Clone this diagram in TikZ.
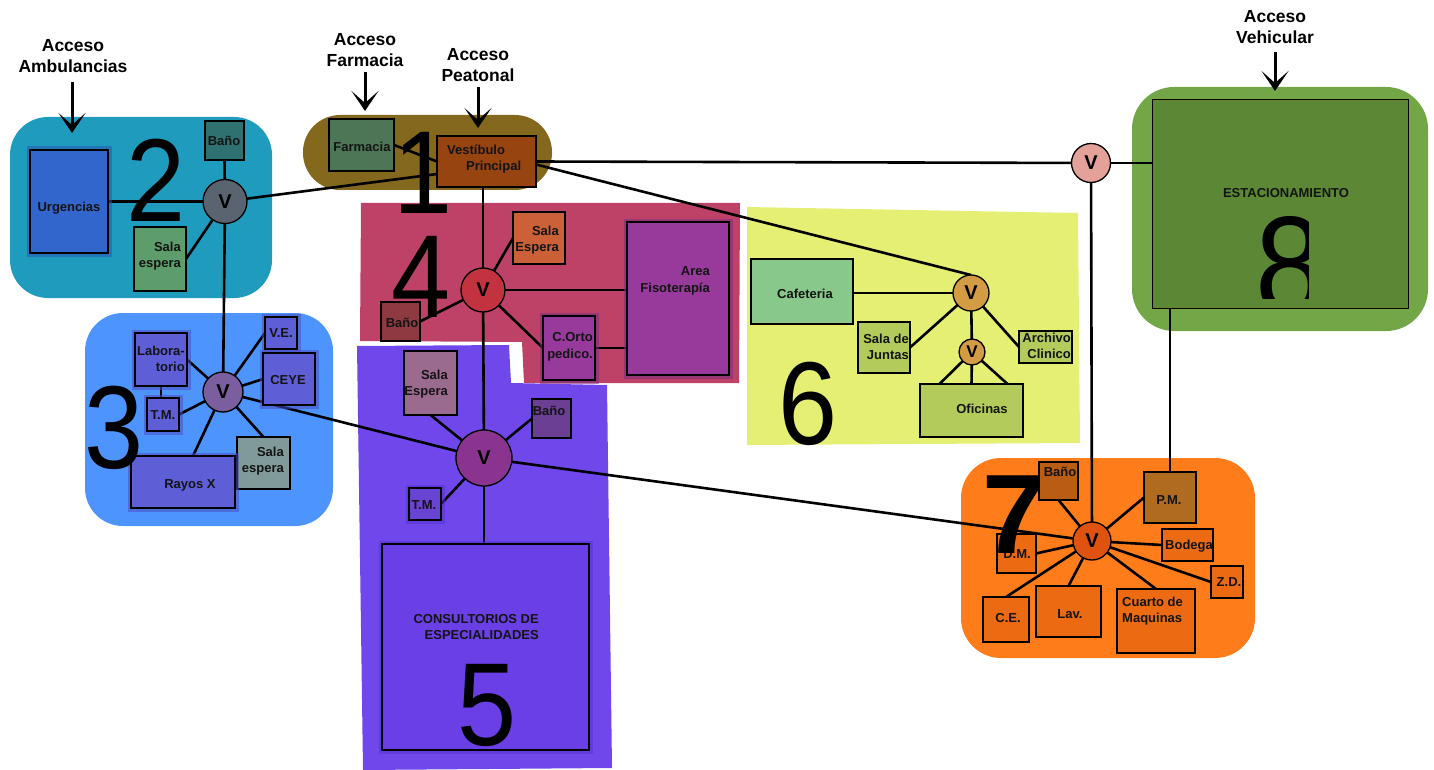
\documentclass[tikz,border=0pt]{standalone}
\usepackage{fontspec}
\usepackage{graphicx}
\setmainfont{Liberation Sans}
\usetikzlibrary{arrows.meta,calc}
\pgfdeclarelayer{zones}
\pgfdeclarelayer{links}
\pgfsetlayers{zones,links,main}

\definecolor{zTwo}{HTML}{1E9BBD}
\definecolor{zOne}{HTML}{84681D}
\definecolor{zThree}{HTML}{4E94FE}
\definecolor{zFour}{HTML}{BE4168}
\definecolor{zFive}{HTML}{6F47EA}
\definecolor{zSix}{HTML}{E5EF74}
\definecolor{zSeven}{HTML}{FE7C1A}
\definecolor{zEight}{HTML}{73A646}
\definecolor{cEst}{HTML}{5C8735}
\definecolor{cUrg}{HTML}{3366CC}
\definecolor{hUrg}{HTML}{2A55B5}
\definecolor{cBtwo}{HTML}{2E7170}
\definecolor{cSEtwo}{HTML}{5D9C6B}
\definecolor{cVtwo}{HTML}{5A6471}
\definecolor{cFarm}{HTML}{4D7657}
\definecolor{cVest}{HTML}{974410}
\definecolor{cVfour}{HTML}{C2323F}
\definecolor{cSEfour}{HTML}{CB6139}
\definecolor{cArea}{HTML}{983A9C}
\definecolor{hArea}{HTML}{7A2D7E}
\definecolor{cBfour}{HTML}{8F3A40}
\definecolor{cVfive}{HTML}{8A3490}
\definecolor{cSEfive}{HTML}{9A6A8F}
\definecolor{cBfive}{HTML}{6B3F93}
\definecolor{cTMfive}{HTML}{6943D3}
\definecolor{cCons}{HTML}{6A3FE5}
\definecolor{hViolet}{HTML}{5632D0}
\definecolor{cVthree}{HTML}{7B5E9E}
\definecolor{cThree}{HTML}{5E5FD6}
\definecolor{hThree}{HTML}{4B4DC0}
\definecolor{cSEthree}{HTML}{7F9A98}
\definecolor{cVsix}{HTML}{D49B45}
\definecolor{cCaf}{HTML}{88C98B}
\definecolor{cSix}{HTML}{B3CB5B}
\definecolor{cVseven}{HTML}{E0520F}
\definecolor{cBseven}{HTML}{B95C14}
\definecolor{cPM}{HTML}{B06B1E}
\definecolor{cSeven}{HTML}{EC6A12}
\definecolor{cVeight}{HTML}{E3A199}

\tikzset{
  box/.style={draw=black, line width=1.6pt, inner sep=0pt, outer sep=0pt},
  halo/.style={preaction={draw=#1, line width=7pt, opacity=0.55}},
  vc/.style={circle, draw=black, line width=1.3pt, inner sep=0pt, outer sep=0pt,
    font=\fontsize{20}{20}\selectfont\bfseries},
  lbl/.style={inner sep=0pt, font=\fontsize{13}{16.5}\selectfont\bfseries, text=black!92},
  link/.style={line width=2.6pt, black},
  acc/.style={line width=3pt, -{Stealth[length=20pt,width=27pt,inset=12pt]}},
  bignum/.style={inner sep=0pt, anchor=base, font=\fontsize{118}{118}\selectfont},
  hdr/.style={inner sep=0pt, align=center, font=\fontsize{17.5}{21}\selectfont\bfseries},
}

\newcommand\mkbox[7][]{\node[box,fill=#7,minimum width={(#5-#3)*1pt},minimum height={(#6-#4)*1pt},#1] (#2) at ({(#3+#5)/2},{(#4+#6)/2}) {};}
\newcommand\narrow[1]{\scalebox{0.9}[1]{#1}}

\begin{document}
\begin{tikzpicture}[x=1pt,y=-1pt]
\useasboundingbox (0,0) rectangle (1434,770);

% ---------- zones ----------
\begin{pgfonlayer}{zones}
\fill[zTwo, rounded corners=38pt] (10,117) rectangle (272,298);
\fill[zOne, rounded corners=37pt] (303,115) rectangle (552,190);
\fill[zThree, rounded corners=38pt] (85,313) rectangle (333,526);
\fill[zFour] (361,203) -- (740,203) -- (739,383) -- (524,383) -- (522,342) -- (360,341) -- cycle;
\fill[zFive] (357,346) -- (509,345) -- (511,383) -- (607,385) -- (612,768) -- (363,770) -- cycle;
\fill[zSix] (747,207) -- (1078,213) -- (1080,443) -- (747,445) -- cycle;
\fill[zSeven, rounded corners=40pt] (961,458) rectangle (1255,658);
\fill[zEight, rounded corners=42pt] (1132,87) rectangle (1428,331);
\end{pgfonlayer}

% ---------- boxes ----------
\mkbox[line width=1pt]{est}{1152}{100}{1408}{308}{cEst}
% zone 2
\mkbox[halo=hUrg]{urg}{30}{150}{108}{253}{cUrg}
\mkbox{btwo}{205}{121}{244}{160}{cBtwo}
\mkbox{setwo}{134}{227}{186}{291}{cSEtwo}
% zone 1
\mkbox{farm}{329}{119}{394}{171}{cFarm}
\mkbox{vest}{437}{136}{536}{187}{cVest}
% zone 4
\mkbox{sefour}{513}{212}{565}{264}{cSEfour}
\mkbox[halo=hArea]{area}{627}{222}{729}{375}{cArea}
\mkbox[halo=hArea]{corto}{543}{316}{595}{380}{cArea}
\mkbox{bfour}{381}{302}{420}{341}{cBfour}
% zone 5
\mkbox{sefive}{404}{351}{457}{415}{cSEfive}
\mkbox{bfive}{532}{399}{571}{438}{cBfive}
\mkbox[halo=hViolet]{tmfive}{409}{488}{441}{520}{cTMfive}
\mkbox[halo=hViolet]{cons}{382}{544}{589}{750}{cCons}
% zone 3
\mkbox[halo=hThree]{lab}{135}{333}{187}{386}{cThree}
\mkbox[halo=hThree]{tmthree}{147}{398}{179}{431}{cThree}
\mkbox[halo=hThree]{ve}{265}{317}{297}{349}{cThree}
\mkbox[halo=hThree]{ceye}{263}{353}{315}{405}{cThree}
\mkbox{sethree}{237}{437}{290}{489}{cSEthree}
\mkbox[halo=hThree]{rx}{131}{456}{235}{508}{cThree}
% zone 6
\mkbox{caf}{751}{259}{853}{324}{cCaf}
\mkbox{sj}{858}{322}{910}{373}{cSix}
\mkbox{ac}{1019}{331}{1072}{363}{cSix}
\mkbox{ofi}{920}{384}{1023}{437}{cSix}
% zone 7
\mkbox{bseven}{1039}{462}{1078}{500}{cBseven}
\mkbox{pm}{1144}{472}{1196}{523}{cPM}
\mkbox{bod}{1162}{529}{1213}{561}{cSeven}
\mkbox{zd}{1211}{566}{1243}{598}{cSeven}
\mkbox{cm}{1117}{589}{1195}{653}{cSeven}
\mkbox{lav}{1036}{586}{1101}{637}{cSeven}
\mkbox{ce}{983}{597}{1029}{642}{cSeven}
\mkbox{dm}{997}{534}{1036}{573}{cSeven}

% ---------- V circles ----------
\node[vc, fill=cVtwo, minimum size=44pt] (vtwo) at (225,201.5) {V};
\node[vc, fill=cVthree, minimum size=40pt] (vthree) at (223,392) {V};
\node[vc, fill=cVfour, minimum size=44pt] (vfour) at (483,290) {V};
\node[vc, fill=cVfive, minimum size=56pt] (vfive) at (484,458) {V};
\node[vc, fill=cVsix, minimum size=36pt] (vsix) at (971,293) {V};
\node[vc, fill=cVsix, minimum size=26pt, font=\fontsize{17}{17}\selectfont\bfseries] (vsixs) at (972,352) {V};
\node[vc, fill=cVseven, minimum size=38pt] (vseven) at (1092,541) {V};
\node[vc, fill=cVeight, minimum size=39pt] (veight) at (1091,163) {V};

% ---------- connectors ----------
\begin{pgfonlayer}{links}
% zone 2
\draw[link] (urg.east) -- (vtwo);
\draw[link] (btwo.south) -- (vtwo);
\draw[link] (setwo.east) -- (vtwo);
\draw[link] (vtwo) -- (vthree);
\draw[link] (vtwo) -- ([yshift=-12.5pt]vest.west);
% zone 1
\draw[link] (farm.east) -- (vest.west);
\draw[link] (vest.east) -- (veight);
\draw[link] ([yshift=-3pt]vest.east) -- (vsix.north);
\draw[link] (vest.south -| vfour) -- (vfour);
% zone 8
\draw[link] (veight) -- (veight -| est.west);
\draw[link] (veight) -- (vseven);
\draw[link] (est.south -| pm.north) -- (pm.north);
% zone 4
\draw[link] (vfour) -- (sefour.west);
\draw[link] (vfour) -- (vfour -| area.west);
\draw[link] (vfour) -- (corto.west);
\draw[link] (corto.east) -- (corto.east -| area.west);
\draw[link] (vfour) -- (bfour.east);
\draw[link] (vfour) -- (vfive);
% zone 5
\draw[link] (vfive) -- (sefive.south);
\draw[link] (vfive) -- (bfive.west);
\draw[link] (vfive) -- (tmfive.east);
\draw[link] (vfive) -- (vfive |- cons.north);
\draw[link] (vthree) -- (vfive);
\draw[link] (vfive) -- (vseven);
% zone 3
\draw[link] (lab.east) -- (vthree);
\draw[link] (lab.south) -- (lab.south |- tmthree.north);
\draw[link] (tmthree.east) -- (vthree);
\draw[link] (ve.west) -- (vthree);
\draw[link] (ceye.west) -- (vthree);
\draw[link] (sethree.north) -- (vthree);
\draw[link] ([xshift=10pt]rx.north) -- (vthree);
% zone 6
\draw[link] (caf.east |- vsix) -- (vsix);
\draw[link] (sj.east) -- (vsix);
\draw[link] (ac.west) -- (vsix);
\draw[link] (vsix) -- (vsixs);
\draw[link] ([xshift=-32pt]ofi.north) -- (vsixs);
\draw[link] (ofi.north) -- (vsixs);
\draw[link] ([xshift=36pt]ofi.north) -- (vsixs);
% zone 7
\draw[link] (bseven.south) -- (vseven);
\draw[link] (pm.west) -- (vseven);
\draw[link] (bod.west) -- (vseven);
\draw[link] (zd.west) -- (vseven);
\draw[link] (cm.north) -- (vseven);
\draw[link] (lav.north) -- (vseven);
\draw[link] (ce.north) -- (vseven);
\draw[link] (dm.east) -- (vseven);
\end{pgfonlayer}

% ---------- labels ----------
\node[lbl] (tUrg) at (69,208) {Urgencias};
\node[lbl] (tBtwo) at (224,141) {Baño};
\node[lbl, align=right, anchor=east] (tSEtwo) at (181,256) {Sala\\espera};
\node[lbl] (tFarm) at (362,147) {Farmacia};
\node[lbl, align=left, anchor=west] (tVest) at (447,159) {Vestíbulo\\\hspace*{19pt}Principal};
\node[lbl, align=right, anchor=east] (tSEfour) at (559,240) {Sala\\Espera};
\node[lbl, align=right, anchor=east] (tArea) at (710,281) {Area\\Fisoterapía};
\node[lbl, align=right, anchor=east] (tCO) at (593,347) {C.Orto\\pedico.};
\node[lbl] (tBfour) at (402,323) {Baño};
\node[lbl, align=right, anchor=east] (tSEfive) at (448,384) {Sala\\Espera};
\node[lbl] (tBfive) at (549,411) {Baño};
\node[lbl] (tTMfive) at (424,505) {T.M.};
\node[lbl, align=right, anchor=east] (tCons) at (539,627) {CONSULTORIOS DE\\ESPECIALIDADES};
\node[lbl, align=right, anchor=east] (tLab) at (185,359) {Labora-\\torio};
\node[lbl] (tTMthree) at (163,415) {T.M.};
\node[lbl] (tVE) at (281,333) {V.E.};
\node[lbl] (tCEYE) at (288,380) {CEYE};
\node[lbl, align=right, anchor=east] (tSEthree) at (284,461) {Sala\\espera};
\node[lbl] (tRX) at (190,485) {Rayos X};
\node[lbl] (tCaf) at (805,294) {Cafeteria};
\node[lbl, align=right, anchor=east] (tSJ) at (909,347) {Sala de\\Juntas};
\node[lbl, align=right, anchor=east] (tAC) at (1071,346) {Archivo\\Clinico};
\node[lbl] (tOf) at (982,409) {Oficinas};
\node[lbl] (tBseven) at (1060,472) {Baño};
\node[lbl] (tPM) at (1169,500) {P.M.};
\node[lbl] (tBod) at (1189,546) {Bodega};
\node[lbl] (tZD) at (1229,582) {Z.D.};
\node[lbl, align=left, anchor=west] (tCM) at (1122,611) {Cuarto de\\Maquinas};
\node[lbl] (tLav) at (1070,614) {Lav.};
\node[lbl] (tCE) at (1008,618) {C.E.};
\node[lbl] (tDM) at (1017,554) {D.M.};
\node[lbl] (tEst) at (1286,193) {ESTACIONAMIENTO};

% ---------- access arrows ----------
\node[hdr] (accAmb) at (73,56.5) {Acceso\\Ambulancias};
\node[hdr] (accFar) at (365,50.5) {Acceso\\Farmacia};
\node[hdr] (accPea) at (478,65.5) {Acceso\\Peatonal};
\node[hdr] (accVeh) at (1275,27.5) {Acceso\\Vehicular};
\coordinate (ambEnd) at (72,133);
\coordinate (farEnd) at (365,111);
\coordinate (peaEnd) at (478,128);
\coordinate (vehEnd) at (1275,91);
\draw[acc] ([yshift=-9pt]accAmb.south -| ambEnd) -- (ambEnd);
\draw[acc] ([yshift=-5pt]accFar.south) -- (farEnd);
\draw[acc] ([yshift=-5pt]accPea.south) -- (peaEnd);
\draw[acc] ([yshift=-8pt]accVeh.south) -- (vehEnd);

% ---------- zone numbers ----------
\node[bignum] (nTwo) at (156,222) {\narrow{2}};
\node[bignum] (nOne) at (423,213) {\narrow{1}};
\node[bignum] (nFour) at (421,317) {\narrow{4}};
\node[bignum] (nThree) at (114,468) {\narrow{3}};
\node[bignum] (nFive) at (487,745) {\narrow{5}};
\node[bignum] (nSix) at (808,444) {\narrow{6}};
\begin{scope}
\clip (1240,200) rectangle (1308,298);
\node[bignum, font=\fontsize{139}{139}\selectfont] (nEight) at (1290,313) {\narrow{8}};
\end{scope}
\node[bignum, font=\fontsize{113}{113}\selectfont\bfseries] (nSeven) at (1014,553) {7};
\end{tikzpicture}
\end{document}
